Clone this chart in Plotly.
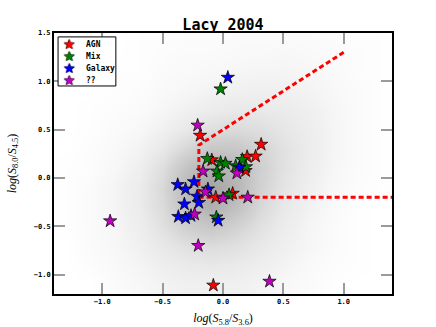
import plotly.graph_objects as go

# background source density, rows bottom -> top
grid_x = [-1.3, -1.1, -0.9, -0.7, -0.5, -0.3, -0.1, 0.1, 0.3, 0.5, 0.7, 0.9, 1.1, 1.3]
grid_y = [-1.1, -0.9, -0.7, -0.5, -0.3, -0.1, 0.1, 0.3, 0.5, 0.7, 0.9, 1.1, 1.3, 1.5]
density = [
    [0, 0, 0.3, 0.5, 0.8, 1.0, 1.0, 1.0, 0.8, 0.5, 0.3, 0.1, 0, 0],
    [0, 0.2, 0.4, 0.7, 1.2, 1.6, 1.8, 1.6, 1.2, 0.8, 0.4, 0.2, 0.1, 0],
    [0, 0.3, 0.5, 1.0, 1.8, 2.6, 3.0, 2.6, 1.8, 1.1, 0.6, 0.3, 0.1, 0],
    [0.1, 0.3, 0.6, 1.2, 2.6, 4.5, 5.5, 4.2, 2.6, 1.4, 0.7, 0.3, 0.1, 0],
    [0.1, 0.3, 0.7, 1.4, 3.2, 6.5, 8.5, 6.5, 3.5, 1.8, 0.9, 0.4, 0.1, 0],
    [0.1, 0.3, 0.7, 1.4, 3.4, 7.5, 10, 8.0, 4.2, 2.2, 1.1, 0.5, 0.2, 0.1],
    [0.1, 0.2, 0.5, 1.1, 2.8, 6.0, 8.5, 7.5, 4.5, 2.5, 1.3, 0.6, 0.3, 0.1],
    [0, 0.2, 0.4, 0.8, 1.8, 3.6, 5.5, 5.5, 4.0, 2.5, 1.4, 0.7, 0.3, 0.1],
    [0, 0.1, 0.3, 0.5, 1.0, 1.8, 2.8, 3.2, 2.8, 2.0, 1.3, 0.7, 0.3, 0.1],
    [0, 0.1, 0.2, 0.3, 0.6, 1.0, 1.4, 1.7, 1.7, 1.5, 1.1, 0.6, 0.3, 0.1],
    [0, 0, 0.1, 0.2, 0.4, 0.6, 0.8, 1.0, 1.1, 1.0, 0.8, 0.5, 0.3, 0.1],
    [0, 0, 0.1, 0.1, 0.3, 0.4, 0.5, 0.6, 0.7, 0.7, 0.6, 0.4, 0.2, 0.1],
    [0, 0, 0, 0.1, 0.2, 0.3, 0.3, 0.4, 0.4, 0.5, 0.4, 0.3, 0.2, 0.1],
    [0, 0, 0, 0.1, 0.1, 0.2, 0.2, 0.3, 0.3, 0.3, 0.3, 0.2, 0.1, 0.1],
]

# Lacy wedge
wedge_x = [1.0, -0.2, -0.2, 1.5]
wedge_y = [1.3, 0.34, -0.2, -0.2]

# classified sources
agn_x = [-0.19, 0.316, -0.093, 0.20, 0.27, 0.187, -0.06, 0.08, -0.08]
agn_y = [0.44, 0.347, 0.186, 0.22, 0.225, 0.075, -0.20, -0.16, -1.11]
mix_x = [-0.02, -0.13, -0.02, 0.02, 0.16, 0.105, 0.19, -0.05, -0.035, 0.05, -0.055]
mix_y = [0.92, 0.20, 0.16, 0.15, 0.19, 0.125, 0.115, 0.07, 0.02, -0.175, -0.405]
gal_x = [0.04, 0.135, -0.375, -0.31, -0.24, -0.215, -0.125, -0.32, -0.20, -0.37, -0.31, -0.265, -0.04]
gal_y = [1.04, 0.11, -0.07, -0.115, -0.04, -0.19, -0.115, -0.27, -0.255, -0.40, -0.415, -0.39, -0.44]
unk_x = [-0.21, -0.165, 0.115, -0.145, 0.0, 0.205, -0.235, -0.935, -0.205, 0.385]
unk_y = [0.545, 0.07, 0.05, -0.145, -0.21, -0.20, -0.375, -0.445, -0.70, -1.07]

groups = ["AGN", "Mix", "Galaxy", "??"]
colors = ["red", "green", "blue", "#c000c0"]

fig = go.Figure()

fig.add_trace(go.Heatmap(
    x=grid_x, y=grid_y, z=density,
    zsmooth="best", showscale=False, hoverinfo="skip",
    colorscale=[[0, "#ffffff"], [0.1, "#f0f0f0"], [0.4, "#d2d2d2"], [1, "#a4a4a4"]],
))

fig.add_trace(go.Scatter(
    x=wedge_x, y=wedge_y, mode="lines", showlegend=False,
    line=dict(color="red", width=3, dash="5px,3px"),
))

for name, xs, ys, col in zip(groups, [agn_x, mix_x, gal_x, unk_x],
                             [agn_y, mix_y, gal_y, unk_y], colors):
    fig.add_trace(go.Scatter(
        name=name, x=xs, y=ys, mode="markers", showlegend=False,
        marker=dict(symbol="star", size=10, color=col,
                    line=dict(color="black", width=0.7)),
    ))

# compact legend (matplotlib style), drawn in paper coordinates
legend_box = dict(type="rect", xref="paper", yref="paper",
                  x0=0.012, x1=0.183, y0=0.797, y1=0.985,
                  line=dict(color="black", width=1), fillcolor="white", layer="above")
annotations = []
for i, (name, col) in enumerate(zip(groups, colors)):
    yy = 0.958 - i * 0.046
    annotations.append(dict(
        text="★", x=0.047, y=yy, xref="paper", yref="paper", showarrow=False,
        xanchor="center", yanchor="middle", height=10, borderpad=0,
        font=dict(family="DejaVu Sans", size=14, color=col,
                  shadow="0 0 1px black, 0 0 1px black")))
    annotations.append(dict(
        text=name, x=0.092, y=yy, xref="paper", yref="paper", showarrow=False,
        xanchor="left", yanchor="middle", height=10, borderpad=0,
        font=dict(family="DejaVu Sans Mono", size=8, color="black", weight="bold")))

tickfont = dict(family="DejaVu Sans Mono", size=7, color="black", weight="bold")
axis_common = dict(
    showline=True, linecolor="black", linewidth=2, mirror="ticks",
    ticks="inside", ticklen=11, tickwidth=1.5, tickcolor="#9a9a9a",
    showgrid=False, zeroline=False, tickfont=tickfont, tickformat=".1f",
    automargin=False,
)

fig.update_layout(
    width=436, height=327,
    margin=dict(l=54, r=44, t=33, b=33),
    plot_bgcolor="white", paper_bgcolor="white",
    title=dict(text="<b>Lacy 2004</b>", x=0.5, xref="paper",
               y=1 - 25 / 327, yref="container", yanchor="middle",
               font=dict(family="DejaVu Sans Mono", size=15, color="black")),
    xaxis=dict(range=[-1.4, 1.4], tickvals=[-1.0, -0.5, 0.0, 0.5, 1.0],
               title=dict(text="<i>log</i>(<i>S</i><sub>5.8</sub>/<i>S</i><sub>3.6</sub>)",
                          font=dict(family="Liberation Serif", size=12, color="black")),
               **axis_common),
    yaxis=dict(range=[-1.2, 1.5], tickvals=[-1.0, -0.5, 0.0, 0.5, 1.0, 1.5],
               title=dict(text="<i>log</i>(<i>S</i><sub>8.0</sub>/<i>S</i><sub>4.5</sub>)",
                          font=dict(family="Liberation Serif", size=12, color="black")),
               **axis_common),
    shapes=[legend_box],
    annotations=annotations,
    showlegend=False,
)

# drop the default page margin so the figure sits at the window's corner
fig.write_html("out.html", config={"displayModeBar": False},
               post_script="document.body.style.margin='0';")
